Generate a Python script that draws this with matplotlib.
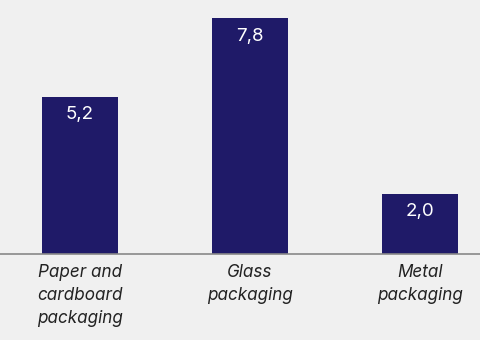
import matplotlib.pyplot as plt
import numpy as np

# data
categories = ['Paper and\ncardboard\npackaging', 'Glass\npackaging', 'Metal\npackaging']
values = [5.2, 7.8, 2.0]
value_labels = ['5,2', '7,8', '2,0']

bg = '#f0f0f0'
bar_color = '#1f1a68'

plt.rcParams['font.family'] = ['Inter', 'DejaVu Sans']

fig = plt.figure(figsize=(4.8, 3.4), dpi=100, facecolor=bg)
ax = fig.add_axes([0, 0.252, 1, 0.748])
ax.set_facecolor(bg)

x = np.arange(len(categories))
bars = ax.bar(x, values, width=0.45, color=bar_color, zorder=2)

# value labels inside the bars
for b, lab in zip(bars, value_labels):
    ax.annotate(lab, (b.get_x() + b.get_width() / 2, b.get_height()),
                xytext=(0, -18), textcoords='offset pixels',
                ha='center', va='center', color='white', fontsize=13.5)

ax.set_xlim(-80 / 170, 2 + 60 / 170)
ax.set_ylim(0, 8.40)

for s in ['top', 'right', 'left']:
    ax.spines[s].set_visible(False)
ax.spines['bottom'].set_color('#888888')
ax.spines['bottom'].set_linewidth(1.2)
ax.spines['bottom'].set_zorder(3)

ax.set_yticks([])
ax.set_xticks(x)
ax.set_xticklabels(categories, fontsize=12.3, style='italic', color='#222222', linespacing=1.45)
ax.tick_params(axis='x', length=0, pad=7)

plt.savefig('out.png', dpi=100, facecolor=bg)
